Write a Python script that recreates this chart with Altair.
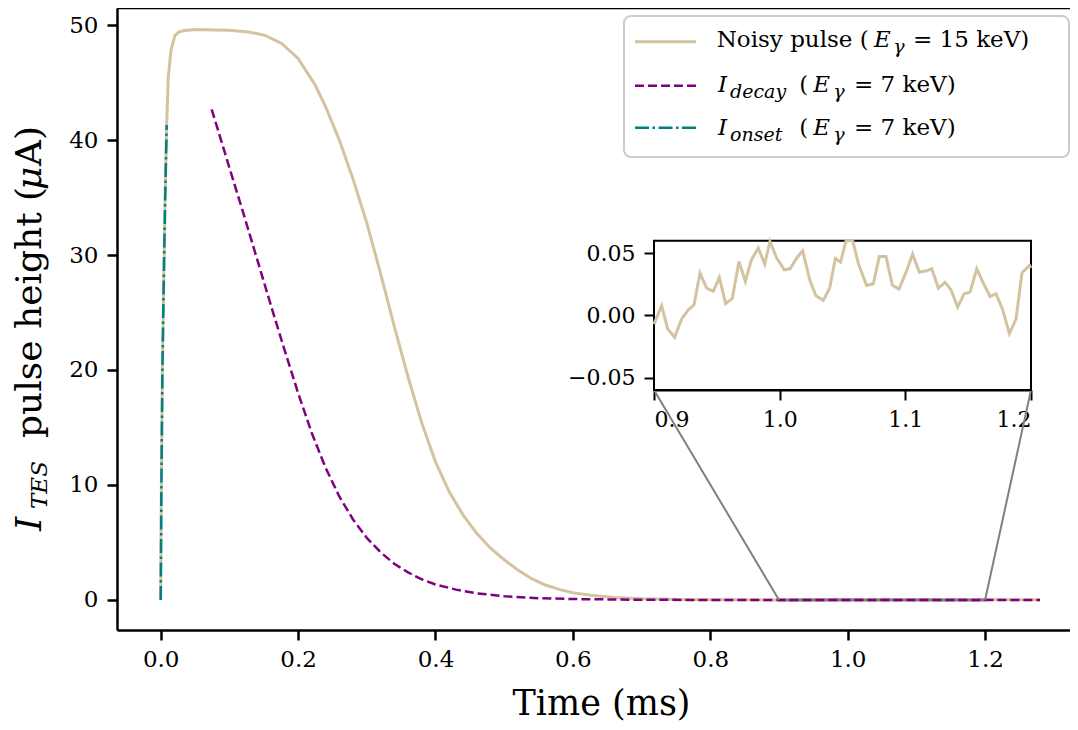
import altair as alt
import pandas as pd

# ---------------- data ----------------
pulse_t = [0.0, 0.001, 0.0025, 0.0045, 0.0065, 0.0087, 0.011, 0.015, 0.0208, 0.027,
           0.033, 0.05, 0.079, 0.1, 0.1275, 0.152, 0.176, 0.2, 0.2246, 0.24,
           0.26, 0.28, 0.30, 0.32, 0.34, 0.36, 0.38, 0.40, 0.42, 0.44,
           0.46, 0.48, 0.50, 0.52, 0.54, 0.56, 0.58, 0.60, 0.63, 0.66,
           0.70, 0.76, 0.82, 0.87]
pulse_v = [0.0, 10.0, 20.0, 28.0, 35.0, 41.3, 45.5, 47.8, 49.1, 49.4,
           49.5, 49.6, 49.57, 49.55, 49.4, 49.1, 48.4, 47.1, 44.8, 42.9,
           40.0, 36.6, 32.8, 28.4, 23.8, 19.4, 15.4, 12.0, 9.4, 7.4,
           5.8, 4.5, 3.5, 2.6, 1.85, 1.3, 0.92, 0.63, 0.38, 0.22,
           0.1, 0.04, 0.02, 0.01]

noise_t = [0.9, 0.9061, 0.9109, 0.9164, 0.9220, 0.9273, 0.9318, 0.9366, 0.9419, 0.9472,
           0.9520, 0.9570, 0.9623, 0.9676, 0.9727, 0.9775, 0.9830, 0.9881, 0.9923, 0.9976,
           1.0037, 1.0082, 1.0135, 1.0183, 1.0239, 1.0289, 1.0347, 1.0398, 1.0443, 1.0485,
           1.0528, 1.0581, 1.0629, 1.0692, 1.0745, 1.0793, 1.0846, 1.0897, 1.0950, 1.1005,
           1.1058, 1.1111, 1.1164, 1.1210, 1.1263, 1.1316, 1.1363, 1.1416, 1.1469, 1.1515,
           1.1568, 1.1621, 1.1674, 1.1721, 1.1775, 1.1828, 1.1881, 1.1928, 1.1987, 1.2]
noise_v = [-0.0070, 0.0078, -0.0110, -0.0176, -0.0029, 0.0045, 0.0083, 0.0340, 0.0219, 0.0193,
           0.0305, 0.0094, 0.0136, 0.0433, 0.0273, 0.0447, 0.0540, 0.0412, 0.0594, 0.0460,
           0.0366, 0.0374, 0.0460, 0.0519, 0.0286, 0.0158, 0.0120, 0.0219, 0.0457, 0.0428,
           0.0660, 0.0640, 0.0406, 0.0241, 0.0254, 0.0473, 0.0473, 0.0241, 0.0211, 0.0345,
           0.0492, 0.0348, 0.0356, 0.0374, 0.0219, 0.0265, 0.0206, 0.0067, 0.0174, 0.0187,
           0.0374, 0.0259, 0.0152, 0.0174, 0.0045, -0.0147, -0.0029, 0.0340, 0.0401, 0.0380]

tail_t = [1.24, 1.28]
tail_v = [0.02, 0.015]

decay_t = [0.0742, 0.10, 0.12, 0.14, 0.16, 0.18, 0.20, 0.22, 0.24, 0.26,
           0.28, 0.30, 0.32, 0.34, 0.36, 0.38, 0.40, 0.43, 0.46, 0.50,
           0.55, 0.60, 0.70, 0.80, 1.0, 1.15, 1.28]
decay_v = [42.67, 37.6, 33.7, 29.7, 25.7, 21.8, 18.0, 14.5, 11.5, 9.0,
           7.0, 5.4, 4.15, 3.15, 2.4, 1.8, 1.35, 0.9, 0.58, 0.33,
           0.16, 0.08, 0.02, 0.0, 0.0, 0.0, 0.0]

onset_t = [0.0, 0.001, 0.0025, 0.0045, 0.0065, 0.0087]
onset_v = [0.0, 10.0, 20.0, 28.0, 35.0, 41.3]

x_ticks = [0.0, 0.2, 0.4, 0.6, 0.8, 1.0, 1.2]
y_ticks = [0, 10, 20, 30, 40, 50]
inset_x_ticks = [0.9, 1.0, 1.1, 1.2]
inset_y_ticks = [-0.05, 0.0, 0.05]
inset_x_dom = [0.9, 1.2]
inset_y_dom = [-0.06, 0.06]

# ---------------- layout / style ----------------
W, H = 953, 622
X_DOM = [-0.0636, 1.3236]
Y_DOM = [-2.61, 51.48]
INSET_PX = [537, 914]
INSET_PY = [382, 232.7]
FONT = "DejaVu Serif"
TAN = "#d3c3a0"
PURPLE = "#800080"
TEAL = "#008080"
GREY = "#808080"

pulse_df = pd.DataFrame({"t": pulse_t + noise_t + tail_t, "v": pulse_v + noise_v + tail_v})
noise_df = pd.DataFrame({"t": noise_t, "v": noise_v})
decay_df = pd.DataFrame({"t": decay_t, "v": decay_v})
onset_df = pd.DataFrame({"t": onset_t, "v": onset_v})
zoom_df = pd.DataFrame({"t": [inset_x_dom[0]], "t2": [inset_x_dom[1]],
                        "v": [inset_y_dom[0]], "v2": [inset_y_dom[1]]})

axis_common = dict(grid=False, domainColor="black", tickColor="black", labelColor="black",
                   domainWidth=2.5, tickWidth=2.5, tickSize=10, labelFont=FONT)

xs = alt.Scale(domain=X_DOM, nice=False, zero=False)
ys = alt.Scale(domain=Y_DOM, nice=False, zero=False)
x_axis = alt.Axis(values=x_ticks, format=".1f", labelFontSize=23, labelPadding=8,
                  title="Time (ms)", titleFont=FONT, titleFontSize=35, titleFontWeight="normal",
                  titleColor="black", titleX=484, titleY=84, titleBaseline="alphabetic",
                  titleAlign="center", **axis_common)
y_axis = alt.Axis(values=y_ticks, format="d", labelFontSize=23, labelPadding=9,
                  title="", **axis_common)
X = alt.X("t:Q", scale=xs, axis=x_axis)
Y = alt.Y("v:Q", scale=ys, axis=y_axis)

pulse = alt.Chart(pulse_df).mark_line(color=TAN, strokeWidth=3).encode(x=X, y=Y, order="t:Q")
zoom_box = alt.Chart(zoom_df).mark_rect(fill="white", fillOpacity=0, stroke=GREY,
                                        strokeWidth=1.5).encode(x=X, x2="t2:Q", y=Y, y2="v2:Q")
decay = alt.Chart(decay_df).mark_line(color=PURPLE, strokeWidth=2.5, strokeDash=[9, 4]).encode(
    x=X, y=Y, order="t:Q")
onset = alt.Chart(onset_df).mark_line(color=TEAL, strokeWidth=2.5,
                                      strokeDash=[14, 3.5, 2.5, 3.5]).encode(x=X, y=Y, order="t:Q")

conn_left = alt.Chart(pd.DataFrame({"t": [inset_x_dom[0]], "v": [0.0]})).mark_rule(
    color=GREY, strokeWidth=2).encode(x=X, y=Y, x2=alt.value(INSET_PX[0]), y2=alt.value(INSET_PY[0]))
conn_right = alt.Chart(pd.DataFrame({"t": [inset_x_dom[1]], "v": [0.0]})).mark_rule(
    color=GREY, strokeWidth=2).encode(x=X, y=Y, x2=alt.value(INSET_PX[1]), y2=alt.value(INSET_PY[0]))

one = pd.DataFrame({"a": [1]})
top_spine = alt.Chart(one).mark_rule(color="black", strokeWidth=2.5).encode(
    x=alt.value(0), x2=alt.value(W), y=alt.value(0))


def txt(s, px, py, size, italic=False, angle=0):
    return alt.Chart(one).mark_text(
        text=s, align="left", baseline="alphabetic", font=FONT, fontSize=size,
        fontStyle="italic" if italic else "normal", angle=angle, color="black"
    ).encode(x=alt.value(px), y=alt.value(py))


# legend
legend_frame = alt.Chart(one).mark_rect(
    fill="white", fillOpacity=0.8, stroke="#cccccc", strokeWidth=2, cornerRadius=7
).encode(x=alt.value(507), x2=alt.value(952), y=alt.value(8), y2=alt.value(149))


def sym(py, color, dash):
    kw = dict(color=color, strokeWidth=3 if dash is None else 2.5)
    if dash is not None:
        kw["strokeDash"] = dash
    return alt.Chart(one).mark_rule(**kw).encode(x=alt.value(518), x2=alt.value(579), y=alt.value(py))


LS, SS = 23, 19
legend_layers = [
    legend_frame,
    sym(33.7, TAN, None), sym(77.7, PURPLE, [9, 4]), sym(119.7, TEAL, [14, 3.5, 2.5, 3.5]),
    txt("Noisy pulse (", 599.7, 38.7, LS), txt("E", 757, 38.7, LS, True),
    txt("γ", 776.3, 44.7, SS, True), txt("= 15 keV)", 796, 38.7, LS),
    txt("I", 601, 83.7, LS, True), txt("decay", 613, 89.7, SS, True), txt("(", 682.3, 83.7, LS),
    txt("E", 696.3, 83.7, LS, True), txt("γ", 716.3, 89.7, SS, True), txt("= 7 keV)", 737, 83.7, LS),
    txt("I", 601, 127, LS, True), txt("onset", 613, 133, SS, True), txt("(", 682.3, 127, LS),
    txt("E", 696.3, 127, LS, True), txt("γ", 716.3, 133, SS, True), txt("= 7 keV)", 737, 127, LS),
]

# y-axis title pieces (rotated)
ytitle = [
    txt("I", -76, 523, 36, True, 270),
    txt("TES", -70.5, 501, 23, True, 270),
    txt("pulse height (", -76, 430, 36, False, 270),
    txt("μ", -76, 182, 36, True, 270),
    txt("A)", -76, 158, 36, False, 270),
]

main = alt.layer(pulse, zoom_box, decay, onset, conn_left, conn_right, top_spine,
                 *legend_layers, *ytitle)

# ---------------- inset ----------------
ixs = alt.Scale(domain=inset_x_dom, range=INSET_PX, nice=False, zero=False, clamp=True)
iys = alt.Scale(domain=inset_y_dom, range=INSET_PY, nice=False, zero=False, clamp=True)
ix_axis = alt.Axis(orient="bottom", offset=-(H - INSET_PY[0]), values=inset_x_ticks, format=".1f",
                   labelFontSize=22, labelPadding=9, title="", **{**axis_common, "domainWidth": 2, "tickWidth": 2})
iy_axis = alt.Axis(orient="left", offset=-INSET_PX[0], values=inset_y_ticks, format=".2f",
                   labelFontSize=22, labelPadding=9, title="", **{**axis_common, "domainWidth": 2, "tickWidth": 2})
IX = alt.X("t:Q", scale=ixs, axis=ix_axis)
IY = alt.Y("v:Q", scale=iys, axis=iy_axis)

inset_frame = alt.Chart(zoom_df).mark_rect(fill="white", stroke="black", strokeWidth=2).encode(
    x=IX, x2="t2:Q", y=IY, y2="v2:Q")
inset_line = alt.Chart(noise_df).mark_line(color=TAN, strokeWidth=3).encode(x=IX, y=IY, order="t:Q")
inset = alt.layer(inset_frame, inset_line)

chart = alt.layer(main, inset).resolve_scale(x="independent", y="independent").properties(
    width=W, height=H,
    padding={"left": 109, "top": 0, "right": 0, "bottom": 92},
    autosize=alt.AutoSizeParams(type="none"),
    background="white",
).configure_view(strokeOpacity=0)

chart.save("out.html", embed_options={"renderer": "svg", "actions": False})
